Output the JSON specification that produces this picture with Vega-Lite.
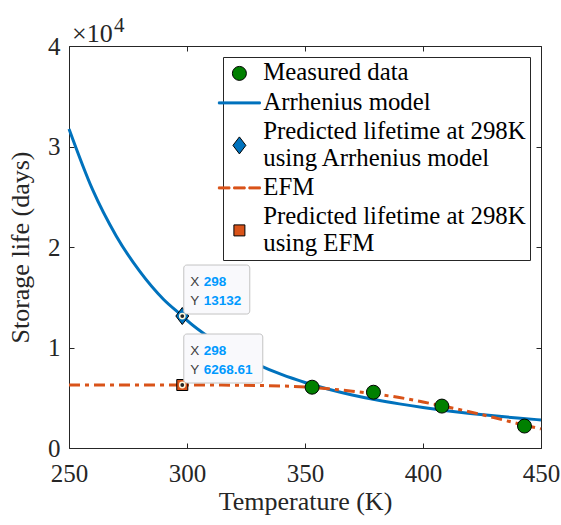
{
  "$schema": "https://vega.github.io/schema/vega-lite/v6.json",
  "width": 472,
  "height": 402,
  "autosize": {"type": "none"},
  "padding": {"left": 69, "top": 46, "right": 20, "bottom": 77},
  "background": "white",
  "config": {
    "view": {"stroke": "#262626", "strokeWidth": 1},
    "font": "Times New Roman",
    "axis": {
      "domain": false,
      "grid": false,
      "tickColor": "#262626",
      "tickSize": -5,
      "tickWidth": 1,
      "labelColor": "#262626",
      "labelFont": "Times New Roman",
      "labelFontSize": 25,
      "titleColor": "#262626",
      "titleFont": "Times New Roman",
      "titleFontSize": 26,
      "titleFontWeight": "normal"
    },
    "legend": {
      "orient": "top-right",
      "offset": 11,
      "padding": 4,
      "rowPadding": 3.5,
      "labelOffset": 11.5,
      "symbolOffset": 0,
      "labelFont": "Times New Roman",
      "labelFontSize": 24.8,
      "labelColor": "#000000",
      "labelLimit": 400,
      "strokeColor": "#262626",
      "fillColor": "#ffffff",
      "symbolOpacity": 1,
      "symbolStrokeWidth": 1,
      "cornerRadius": 0
    }
  },
  "datasets": {
    "arrhenius": [
      {"T": 250, "days": 31750}, {"T": 260, "days": 25700}, {"T": 270, "days": 21100},
      {"T": 280, "days": 17570}, {"T": 290, "days": 14800}, {"T": 298, "days": 13132},
      {"T": 300, "days": 12700}, {"T": 310, "days": 10920}, {"T": 320, "days": 9500},
      {"T": 330, "days": 8300}, {"T": 340, "days": 7320}, {"T": 350, "days": 6520},
      {"T": 360, "days": 5850}, {"T": 370, "days": 5280}, {"T": 380, "days": 4800},
      {"T": 390, "days": 4390}, {"T": 400, "days": 4030}, {"T": 410, "days": 3715},
      {"T": 420, "days": 3440}, {"T": 430, "days": 3200}, {"T": 440, "days": 2985},
      {"T": 450, "days": 2790}
    ],
    "efm": [
      {"T": 250, "days": 6270}, {"T": 260, "days": 6270}, {"T": 270, "days": 6270},
      {"T": 280, "days": 6270}, {"T": 290, "days": 6269}, {"T": 298, "days": 6268.61},
      {"T": 310, "days": 6262}, {"T": 320, "days": 6250}, {"T": 330, "days": 6225},
      {"T": 340, "days": 6170}, {"T": 350, "days": 6070}, {"T": 360, "days": 5890},
      {"T": 370, "days": 5650}, {"T": 380, "days": 5360}, {"T": 390, "days": 5020},
      {"T": 400, "days": 4580}, {"T": 410, "days": 4100}, {"T": 420, "days": 3590},
      {"T": 430, "days": 3030}, {"T": 440, "days": 2440}, {"T": 450, "days": 1900}
    ],
    "points": [
      {"T": 353, "days": 6050, "series": "Measured data"},
      {"T": 379, "days": 5550, "series": "Measured data"},
      {"T": 408, "days": 4170, "series": "Measured data"},
      {"T": 443, "days": 2185, "series": "Measured data"},
      {"T": 298, "days": 13132, "series": "Predicted lifetime at 298K using Arrhenius model"},
      {"T": 298, "days": 6268.61, "series": "Predicted lifetime at 298K using EFM"}
    ],
    "tips": [
      {"T": 298, "days": 13132, "tip": "arrhenius"},
      {"T": 298, "days": 6268.61, "tip": "efm"}
    ],
    "corner": [
      {"T": 250, "days": 40000}
    ]
  },
  "encoding": {
    "x": {"field": "T", "type": "quantitative", "scale": {"domain": [250, 450], "nice": false}, "axis": null},
    "y": {"field": "days", "type": "quantitative", "scale": {"domain": [0, 40000], "nice": false, "zero": false}, "axis": null}
  },
  "resolve": {"axis": {"x": "independent", "y": "independent"}},
  "layer": [
    {
      "data": {"name": "arrhenius"},
      "mark": {"type": "line", "stroke": "#0072BD", "strokeWidth": 3, "interpolate": "monotone"},
      "encoding": {
        "x": {"field": "T", "type": "quantitative", "scale": {"domain": [250, 450], "nice": false},
              "axis": {"orient": "top", "values": [250, 300, 350, 400, 450], "labels": false, "title": null}},
        "y": {"field": "days", "type": "quantitative", "scale": {"domain": [0, 40000], "nice": false, "zero": false},
              "axis": {"orient": "right", "values": [0, 10000, 20000, 30000, 40000], "labels": false, "title": null}}
      }
    },
    {
      "data": {"name": "efm"},
      "mark": {"type": "line", "stroke": "#D95319", "strokeWidth": 3, "strokeDash": [11, 5, 4, 5], "interpolate": "monotone"},
      "encoding": {}
    },
    {
      "data": {"name": "points"},
      "mark": {"type": "point", "filled": true, "opacity": 1, "strokeWidth": 1},
      "encoding": {
        "x": {"field": "T", "type": "quantitative", "scale": {"domain": [250, 450], "nice": false},
              "axis": {"orient": "bottom", "values": [250, 300, 350, 400, 450], "labelPadding": 18.8, "labelFlush": false,
                       "title": "Temperature (K)", "titleX": 236, "titleY": 61, "titleBaseline": "alphabetic", "titleAlign": "center"}},
        "y": {"field": "days", "type": "quantitative", "scale": {"domain": [0, 40000], "nice": false, "zero": false},
              "axis": {"orient": "left", "values": [0, 10000, 20000, 30000, 40000], "labelExpr": "datum.value / 10000",
                       "labelPadding": 14, "labelFlush": false,
                       "title": "Storage life (days)", "titleX": -41, "titleY": 201, "titleAngle": -90,
                       "titleBaseline": "alphabetic", "titleAlign": "center"}},
        "fill": {
          "field": "series", "type": "nominal",
          "scale": {
            "domain": ["Measured data", "Arrhenius model", "Predicted lifetime at 298K using Arrhenius model", "EFM", "Predicted lifetime at 298K using EFM"],
            "range": ["#008000", "#0072BD", "#0072BD", "#D95319", "#D95319"]
          },
          "legend": {
            "title": null,
            "labelExpr": "indexof(datum.label, ' using ') > 0 ? [substring(datum.label, 0, indexof(datum.label, ' using ')), substring(datum.label, indexof(datum.label, ' using ') + 1)] : datum.label",
            "encode": {"labels": {"update": {
              "lineHeight": {"value": 26.5},
              "dy": {"signal": "indexof(datum.value, ' using ') > 0 ? -13.25 : 0"}
            }}}
          }
        },
        "stroke": {
          "field": "series", "type": "nominal",
          "scale": {
            "domain": ["Measured data", "Arrhenius model", "Predicted lifetime at 298K using Arrhenius model", "EFM", "Predicted lifetime at 298K using EFM"],
            "range": ["#000000", "#0072BD", "#000000", "#D95319", "#000000"]
          },
          "legend": {"title": null}
        },
        "shape": {
          "field": "series", "type": "nominal",
          "scale": {
            "domain": ["Measured data", "Arrhenius model", "Predicted lifetime at 298K using Arrhenius model", "EFM", "Predicted lifetime at 298K using EFM"],
            "range": [
              "circle",
              "M -4.2 -0.2 H 4.2 V 0.2 H -4.2 Z",
              "M 0 -1 L 0.76 0 L 0 1 L -0.76 0 Z",
              "M -4.2 -0.2 H -1.9 V 0.2 H -4.2 Z M -1.15 -0.2 H 1.15 V 0.2 H -1.15 Z M 1.9 -0.2 H 4.2 V 0.2 H 1.9 Z",
              "square"
            ]
          },
          "legend": {"title": null}
        },
        "size": {
          "field": "series", "type": "nominal",
          "scale": {
            "type": "ordinal",
            "domain": ["Measured data", "Arrhenius model", "Predicted lifetime at 298K using Arrhenius model", "EFM", "Predicted lifetime at 298K using EFM"],
            "range": [196, 100, 289, 100, 121]
          },
          "legend": {"title": null}
        }
      }
    },
    {
      "data": {"name": "tips"},
      "transform": [{"filter": "datum.tip === 'arrhenius'"}],
      "mark": {
        "type": "point", "filled": true, "opacity": 1, "size": 4,
        "shape": "M 4.5 -51 H 64.5 A 3 3 0 0 1 67.5 -48 V -5 A 3 3 0 0 1 64.5 -2 H 4.5 A 3 3 0 0 1 1.5 -5 V -48 A 3 3 0 0 1 4.5 -51 Z",
        "fill": "#f9f9fc", "stroke": "#c4c4c4", "strokeWidth": 1
      },
      "encoding": {}
    },
    {
      "data": {"name": "tips"},
      "transform": [{"filter": "datum.tip === 'efm'"}],
      "mark": {
        "type": "point", "filled": true, "opacity": 1, "size": 4,
        "shape": "M 4.5 -51 H 77.5 A 3 3 0 0 1 80.5 -48 V -5 A 3 3 0 0 1 77.5 -2 H 4.5 A 3 3 0 0 1 1.5 -5 V -48 A 3 3 0 0 1 4.5 -51 Z",
        "fill": "#f9f9fc", "stroke": "#c4c4c4", "strokeWidth": 1
      },
      "encoding": {}
    },
    {
      "data": {"name": "tips"},
      "mark": {"type": "point", "filled": true, "opacity": 1, "shape": "circle", "size": 28,
               "fill": "#262626", "stroke": "#fff8dc", "strokeWidth": 1.5},
      "encoding": {}
    },
    {
      "data": {"name": "tips"},
      "mark": {"type": "text", "text": "X", "dx": 8, "dy": -30, "align": "left", "baseline": "alphabetic",
               "font": "Arial", "fontSize": 13.5, "fill": "#404040"},
      "encoding": {}
    },
    {
      "data": {"name": "tips"},
      "mark": {"type": "text", "text": "Y", "dx": 8, "dy": -11, "align": "left", "baseline": "alphabetic",
               "font": "Arial", "fontSize": 13.5, "fill": "#404040"},
      "encoding": {}
    },
    {
      "data": {"name": "tips"},
      "mark": {"type": "text", "dx": 21.5, "dy": -30, "align": "left", "baseline": "alphabetic",
               "font": "Arial", "fontSize": 13.5, "fontWeight": "bold", "fill": "#0099ff"},
      "encoding": {"text": {"field": "T", "type": "quantitative", "format": "d"}}
    },
    {
      "data": {"name": "tips"},
      "mark": {"type": "text", "dx": 21.5, "dy": -11, "align": "left", "baseline": "alphabetic",
               "font": "Arial", "fontSize": 13.5, "fontWeight": "bold", "fill": "#0099ff"},
      "encoding": {"text": {"field": "days", "type": "quantitative", "format": ".6~g"}}
    },
    {
      "data": {"name": "corner"},
      "mark": {"type": "text", "text": "×10", "dx": 3, "dy": -4, "align": "left", "baseline": "alphabetic",
               "font": "Times New Roman", "fontSize": 26, "fill": "#262626", "clip": false},
      "encoding": {}
    },
    {
      "data": {"name": "corner"},
      "mark": {"type": "text", "text": "4", "dx": 45, "dy": -14, "align": "left", "baseline": "alphabetic",
               "font": "Times New Roman", "fontSize": 21, "fill": "#262626", "clip": false},
      "encoding": {}
    }
  ]
}
